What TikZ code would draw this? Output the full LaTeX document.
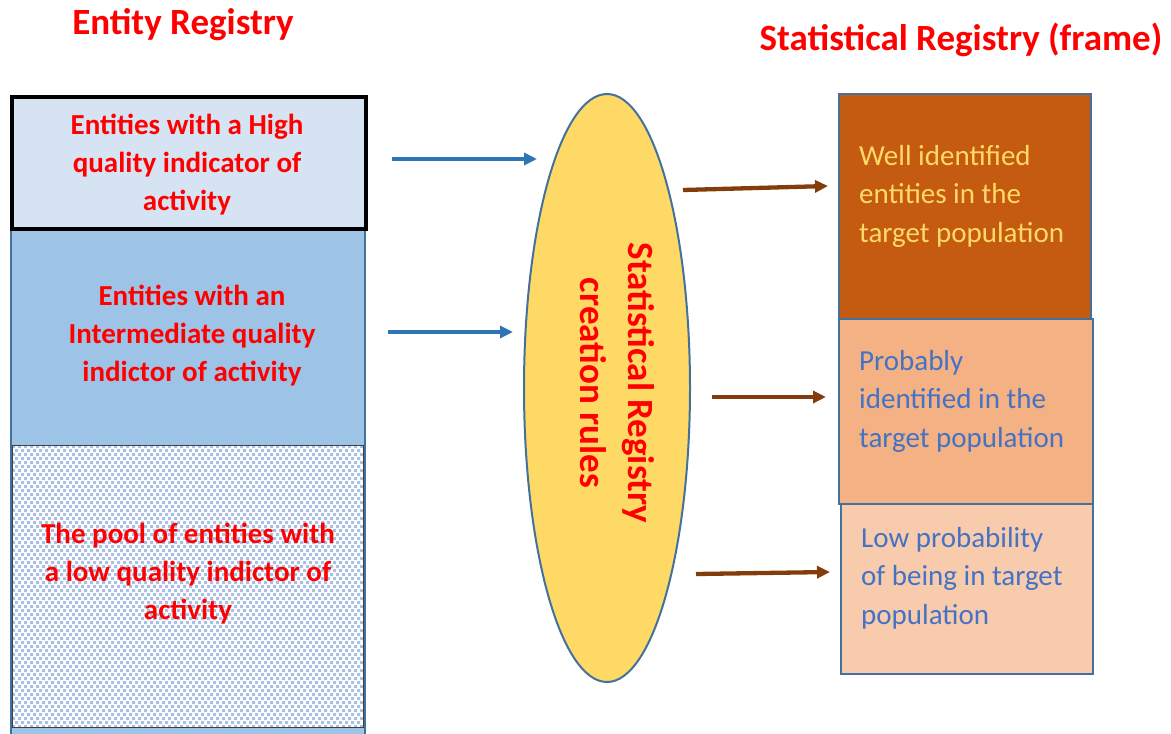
\documentclass[tikz,border=0pt]{standalone}
\usepackage{fontspec}
\setmainfont{Carlito}
\usetikzlibrary{shapes.geometric,arrows.meta}
\definecolor{edgeblue}{HTML}{41719C}
\definecolor{midblue}{HTML}{9DC3E6}
\definecolor{paleblue}{HTML}{D5E3F2}
\definecolor{dotblue}{HTML}{A9BFE6}
\definecolor{gold}{HTML}{FFD966}
\definecolor{arrowblue}{HTML}{2E75B6}
\definecolor{arrowbrown}{HTML}{843C0C}
\definecolor{rust}{HTML}{C55A11}
\definecolor{peach}{HTML}{F4B183}
\definecolor{lightpeach}{HTML}{F8CBAD}
\definecolor{txtblue}{HTML}{4472C4}
\definecolor{txtred}{HTML}{FF0000}
\begin{document}
\begin{tikzpicture}[x=1pt,y=-1pt,
  title/.style={font=\fontsize{37}{44}\selectfont\bfseries, text=txtred, inner sep=0},
  lefttxt/.style={font=\fontsize{29}{38}\selectfont\bfseries, text=txtred, align=center, inner sep=0},
  righttxt/.style={font=\fontsize{29}{38.5}\selectfont, align=left, inner sep=0, anchor=west},
  rbox/.style={draw=edgeblue, line width=2pt, anchor=north west, inner sep=0},
  bluearrow/.style={draw=arrowblue, line width=3.8pt, -{Triangle[length=13pt,width=12pt]}},
  brownarrow/.style={draw=arrowbrown, line width=4.3pt, -{Triangle[length=13pt,width=12pt]}}
]
\useasboundingbox (0,0) rectangle (1171,734);

% titles
\node[title] (t1) at (183,25) {Entity Registry};
\node[title] (t2) at (961,40) {Statistical Registry (frame)};

% entity registry column
\node[draw=edgeblue, line width=2pt, fill=midblue, minimum width=354pt, minimum height=660pt, anchor=north west, inner sep=0] (reg) at (10,95) {};
\node[draw=black, line width=3.5pt, fill=paleblue, minimum width=354pt, minimum height=132pt, anchor=north west, inner sep=0] (high) at (10,95) {};
\node[fill=white, minimum width=351pt, minimum height=282pt, anchor=north west, inner sep=0] (pool) at (12,445) {};
\begin{scope}
  \clip (12,445) rectangle (363,727);
  \fill[dotblue]
    \foreach \r in {0,8,...,280} {\foreach \c in {0,6,...,348} {(12+\c,445+\r) rectangle ++(3,3)}}
    \foreach \r in {0,8,...,280} {\foreach \c in {0,6,...,348} {(15+\c,449+\r) rectangle ++(3,3)}};
\end{scope}
\node[draw=black!75, line width=1pt, minimum width=351pt, minimum height=282pt, anchor=north west, inner sep=0] (poolframe) at (12,445) {};

\node[lefttxt] (hightxt) at (187,165) {Entities with a High\\quality indicator of\\activity};
\node[lefttxt] (midtxt) at (192,336) {Entities with an\\Intermediate quality\\indictor of activity};
\node[lefttxt] (pooltxt) at (188,574) {The pool of entities with\\a low quality indictor of\\activity};

% ellipse
\node[ellipse, draw=edgeblue, line width=2pt, fill=gold, minimum width=166pt, minimum height=588pt, inner sep=0] (rules) at (607,388) {};
\node[font=\fontsize{37}{48}\selectfont\bfseries, text=txtred, align=center, rotate=-90, inner sep=0] (rulestxt) at (617,383) {Statistical Registry\\creation rules};

% right boxes
\node[rbox, fill=rust, minimum width=252pt, minimum height=225pt] (b1) at (838,93) {};
\node[rbox, fill=peach, minimum width=254pt, minimum height=185pt] (b2) at (838,318) {};
\node[rbox, fill=lightpeach, minimum width=252pt, minimum height=170pt] (b3) at (840,503) {};

\node[righttxt, text=gold] (b1txt) at (859,196) {Well identified\\entities in the\\target population};
\node[righttxt, text=txtblue] (b2txt) at (859,401) {Probably\\identified in the\\target population};
\node[righttxt, text=txtblue] (b3txt) at (861,578) {Low probability\\of being in target\\population};

% arrows
\coordinate (a1s) at (392,159); \coordinate (a1e) at (537,159);
\coordinate (a2s) at (388,332); \coordinate (a2e) at (513,332);
\coordinate (c1s) at (683,190); \coordinate (c1e) at (828,186);
\coordinate (c2s) at (712,397); \coordinate (c2e) at (826,397);
\coordinate (c3s) at (696,574); \coordinate (c3e) at (830,572);
\draw[bluearrow] (a1s) -- (a1e);
\draw[bluearrow] (a2s) -- (a2e);
\draw[brownarrow] (c1s) -- (c1e);
\draw[brownarrow] (c2s) -- (c2e);
\draw[brownarrow] (c3s) -- (c3e);
\end{tikzpicture}
\end{document}
